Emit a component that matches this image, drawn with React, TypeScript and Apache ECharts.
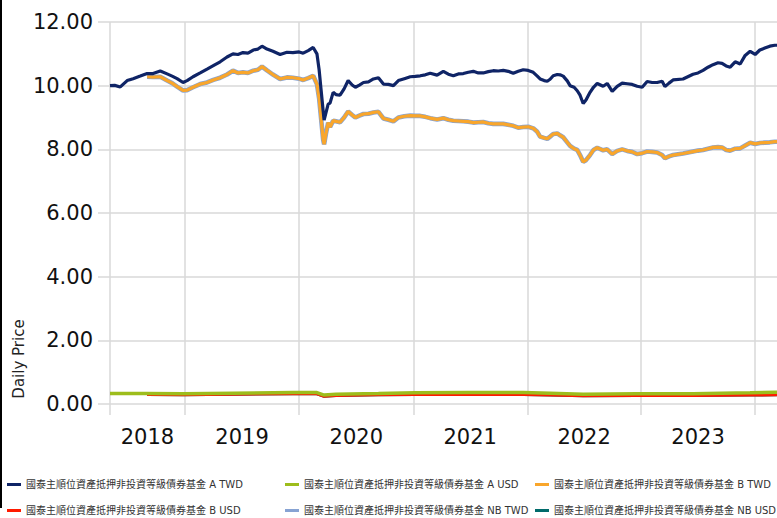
import React, { useEffect, useRef } from "react";
import * as echarts from "echarts";

// ---- data ----
const seriesNames = [
  "國泰主順位資產抵押非投資等級債券基金 A TWD",
  "國泰主順位資產抵押非投資等級債券基金 A USD",
  "國泰主順位資產抵押非投資等級債券基金 B TWD",
  "國泰主順位資產抵押非投資等級債券基金 B USD",
  "國泰主順位資產抵押非投資等級債券基金 NB TWD",
  "國泰主順位資產抵押非投資等級債券基金 NB USD",
];

const dates = [
  "2018-05-05", "2018-05-20", "2018-06-07", "2018-06-29", "2018-07-18", "2018-08-10", "2018-09-01", "2018-09-20", "2018-10-13", "2018-11-04",
  "2018-11-20", "2018-12-06", "2018-12-25", "2019-01-07", "2019-01-26", "2019-02-18", "2019-03-12", "2019-04-01", "2019-04-23", "2019-05-15",
  "2019-06-03", "2019-06-19", "2019-07-05", "2019-07-21", "2019-08-07", "2019-08-22", "2019-09-04", "2019-09-20", "2019-10-09", "2019-11-01",
  "2019-11-23", "2019-12-12", "2020-01-01", "2020-01-14", "2020-01-30", "2020-02-15", "2020-02-27", "2020-03-05", "2020-03-11", "2020-03-18",
  "2020-03-21", "2020-03-27", "2020-04-03", "2020-04-09", "2020-04-19", "2020-04-28", "2020-05-11", "2020-05-24", "2020-06-06", "2020-06-19",
  "2020-06-29", "2020-07-12", "2020-07-25", "2020-08-10", "2020-08-26", "2020-09-11", "2020-09-27", "2020-10-13", "2020-10-29", "2020-11-14",
  "2020-12-03", "2020-12-22", "2021-01-07", "2021-01-23", "2021-02-08", "2021-02-24", "2021-03-18", "2021-04-07", "2021-04-23", "2021-05-09",
  "2021-05-25", "2021-06-10", "2021-06-26", "2021-07-12", "2021-07-28", "2021-08-13", "2021-08-29", "2021-09-14", "2021-09-30", "2021-10-16",
  "2021-11-01", "2021-11-17", "2021-12-03", "2021-12-19", "2022-01-04", "2022-01-20", "2022-02-02", "2022-02-11", "2022-02-24", "2022-03-06",
  "2022-03-15", "2022-03-25", "2022-04-07", "2022-04-16", "2022-04-26", "2022-05-09", "2022-05-18", "2022-05-31", "2022-06-10", "2022-06-19",
  "2022-06-29", "2022-07-08", "2022-07-21", "2022-08-01", "2022-08-13", "2022-09-01", "2022-09-14", "2022-09-30", "2022-10-16", "2022-11-01",
  "2022-11-17", "2022-12-03", "2022-12-19", "2023-01-04", "2023-01-20", "2023-02-05", "2023-02-21", "2023-03-09", "2023-03-18", "2023-03-31",
  "2023-04-13", "2023-05-15", "2023-06-16", "2023-07-02", "2023-07-18", "2023-08-03", "2023-08-19", "2023-09-04", "2023-09-17", "2023-09-30",
  "2023-10-13", "2023-10-29", "2023-11-14", "2023-11-30", "2023-12-16", "2024-01-01", "2024-01-16", "2024-02-01", "2024-02-17", "2024-03-04",
  "2024-03-11",
];

const aTwd = [
  10.0, 10.01, 9.96, 10.16, 10.22, 10.3, 10.38, 10.38, 10.46, 10.37,
  10.3, 10.22, 10.1, 10.16, 10.28, 10.4, 10.52, 10.63, 10.75, 10.9,
  11.0, 10.98, 11.04, 11.02, 11.12, 11.15, 11.24, 11.15, 11.08, 10.98,
  11.05, 11.04, 11.06, 11.02, 11.1, 11.2, 11.0, 10.5, 9.9, 9.2,
  8.92, 9.15, 9.42, 9.45, 9.79, 9.72, 9.7, 9.9, 10.16, 10.02,
  9.95, 10.02, 10.1, 10.12, 10.21, 10.25, 10.05, 10.04, 10.0, 10.16,
  10.22, 10.28, 10.29, 10.31, 10.34, 10.39, 10.33, 10.45, 10.36, 10.31,
  10.37, 10.38, 10.42, 10.45, 10.4, 10.4, 10.44, 10.47, 10.46, 10.48,
  10.45, 10.39, 10.45, 10.5, 10.48, 10.42, 10.3, 10.21, 10.16, 10.14,
  10.2, 10.31, 10.35, 10.34, 10.3, 10.15, 10.0, 9.95, 9.84, 9.7,
  9.44, 9.55, 9.79, 9.95, 10.07, 9.98, 10.07, 9.82, 9.98, 10.08,
  10.06, 10.04, 9.98, 9.95, 10.13, 10.1, 10.1, 10.14, 9.97, 10.08,
  10.18, 10.21, 10.36, 10.4, 10.48, 10.58, 10.66, 10.72, 10.7, 10.62,
  10.58, 10.75, 10.68, 10.95, 11.08, 10.98, 11.12, 11.18, 11.24, 11.27,
  11.27,
];

const bTwd = [
  null, null, null, null, null, null, 10.28, 10.27, 10.28, 10.16,
  10.08, 9.97, 9.85, 9.86, 9.95, 10.05, 10.1, 10.18, 10.25, 10.35,
  10.47, 10.4, 10.42, 10.4, 10.47, 10.5, 10.6, 10.48, 10.35, 10.21,
  10.26, 10.25, 10.22, 10.18, 10.24, 10.31, 10.05, 9.6, 9.0, 8.3,
  8.16, 8.5, 8.84, 8.7, 8.9, 8.88, 8.85, 9.0, 9.19, 9.08,
  9.0, 9.06, 9.11, 9.12, 9.16, 9.18, 8.97, 8.93, 8.88, 9.0,
  9.04, 9.06, 9.05, 9.05, 9.02, 8.98, 8.94, 8.98, 8.93, 8.9,
  8.89, 8.88, 8.87, 8.84, 8.85, 8.86, 8.82, 8.8, 8.8, 8.8,
  8.77, 8.74, 8.68, 8.7, 8.71, 8.66, 8.55, 8.4, 8.36, 8.33,
  8.4, 8.48, 8.5, 8.44, 8.38, 8.22, 8.11, 8.02, 7.98, 7.82,
  7.61, 7.66, 7.82, 7.98, 8.05, 7.97, 8.0, 7.85, 7.95, 8.0,
  7.95, 7.92, 7.85, 7.88, 7.93, 7.92, 7.9, 7.82, 7.72, 7.78,
  7.82, 7.87, 7.93, 7.96, 7.98, 8.02, 8.06, 8.07, 8.06, 7.98,
  7.96, 8.02, 8.03, 8.12, 8.21, 8.17, 8.2, 8.21, 8.22, 8.24,
  8.24,
];

// NB TWD runs on top of B TWD in the picture (only its light edge shows)
const nbTwd = bTwd;

const usdDates = [
  "2018-05-05", "2018-09-01", "2018-12-25", "2019-06-03", "2019-12-12", "2020-02-27", "2020-03-21", "2020-04-28", "2020-09-11",
  "2021-01-07", "2021-06-26", "2021-12-19", "2022-03-15", "2022-06-29", "2022-12-19", "2023-06-16", "2023-12-16", "2024-03-11",
];
const aUsd = [0.33, 0.33, 0.32, 0.34, 0.36, 0.36, 0.28, 0.31, 0.33, 0.35, 0.36, 0.36, 0.34, 0.31, 0.32, 0.32, 0.35, 0.37];
const bUsd = [null, 0.3, 0.29, 0.31, 0.32, 0.32, 0.24, 0.27, 0.29, 0.3, 0.3, 0.3, 0.28, 0.26, 0.27, 0.27, 0.28, 0.29];
// NB USD is hidden beneath B USD in the picture
const nbUsd = bUsd;

const axisStart = "2018-05-05";
const axisEnd = "2024-03-11";
const yearTickDates = ["2018-05-05", "2019-01-01", "2020-01-01", "2021-01-01", "2022-01-01", "2023-01-01", "2024-01-01"];
const yearLabelDates = ["2018-09-02", "2019-07-02", "2020-07-02", "2021-07-02", "2022-07-02", "2023-07-02"];
const yTicks = { min: 0, max: 12, interval: 2 };

const colors = ["#0f2466", "#9dbd1c", "#f9a62b", "#ff1a00", "#87a3d3", "#006b6b"];

const ts = (d: string) => Date.UTC(+d.slice(0, 4), +d.slice(5, 7) - 1, +d.slice(8, 10));
const pair = (ds: string[], vs: (number | null)[]) =>
  ds.map((d, i) => [ts(d), vs[i]]).filter((p) => p[1] !== null);

const GRID = "#d9d9d9";
const FONT = "'DejaVu Sans', Verdana, 'Noto Sans CJK TC', sans-serif";

// legend layout: [series index, left, top]
const legendSlots: [number, number, number][] = [
  [0, 7, 477.5],
  [1, 285, 477.5],
  [2, 535, 477.5],
  [3, 7, 503.5],
  [4, 285, 503.5],
  [5, 535, 503.5],
];

export default function App() {
  const ref = useRef<HTMLDivElement>(null);
  useEffect(() => {
    const chart = echarts.init(ref.current!, undefined, { renderer: "svg" });
    const mk = (i: number, data: any[], width: number, z: number) => ({
      name: seriesNames[i],
      type: "line",
      data,
      showSymbol: false,
      symbol: "none",
      color: colors[i],
      lineStyle: { color: colors[i], width },
      z,
      silent: true,
    });
    chart.setOption({
      animation: false,
      backgroundColor: "#ffffff",
      grid: { left: 110, right: 0, top: 22, bottom: 114, containLabel: false },
      legend: legendSlots.map(([i, left, top]) => ({
        left,
        top,
        padding: 0,
        orient: "horizontal",
        itemWidth: 14,
        itemHeight: 3,
        icon: "rect",
        selectedMode: false,
        textStyle: { fontSize: 10, color: "#333", fontFamily: FONT, lineHeight: 14 },
        data: [seriesNames[i]],
      })),
      xAxis: {
        type: "value",
        min: ts(axisStart),
        max: ts(axisEnd),
        axisLine: { show: false },
        axisTick: {
          show: true,
          length: 11,
          customValues: yearTickDates.map(ts),
          lineStyle: { color: GRID, width: 1.5 },
        },
        splitLine: { show: true, lineStyle: { color: GRID, width: 1.5 } },
        axisLabel: {
          customValues: yearLabelDates.map(ts),
          formatter: (v: number) => String(new Date(v).getUTCFullYear()),
          fontSize: 21,
          color: "#111",
          fontFamily: FONT,
          margin: 22,
        },
      },
      yAxis: {
        type: "value",
        min: yTicks.min,
        max: yTicks.max,
        interval: yTicks.interval,
        axisLine: { show: false },
        axisTick: { show: true, length: 12, lineStyle: { color: GRID, width: 1.5 } },
        splitLine: { show: true, lineStyle: { color: GRID, width: 1.5 } },
        axisLabel: {
          formatter: (v: number) => v.toFixed(2),
          fontSize: 21,
          color: "#111",
          fontFamily: FONT,
          margin: 17,
        },
      },
      graphic: [
        { type: "rect", left: 0, top: 0, shape: { width: 2, height: 508 }, style: { fill: "#000" } },
        {
          type: "text",
          x: 19,
          y: 359,
          rotation: Math.PI / 2,
          style: {
            text: "Daily Price",
            fontSize: 15,
            fill: "#222",
            fontFamily: FONT,
            align: "center",
            verticalAlign: "middle",
          },
        },
      ],
      series: [
        mk(0, pair(dates, aTwd), 3.2, 5),
        mk(1, pair(usdDates, aUsd), 3.5, 5),
        mk(2, pair(dates, bTwd), 3.2, 4),
        mk(3, pair(usdDates, bUsd), 3, 4),
        mk(4, pair(dates, nbTwd), 4.6, 3),
        mk(5, pair(usdDates, nbUsd), 3, 3),
      ],
    });
    return () => chart.dispose();
  }, []);
  return (
    <div
      ref={ref}
      style={{ position: "fixed", left: 0, top: 0, width: 777, height: 518, background: "#fff" }}
    />
  );
}
